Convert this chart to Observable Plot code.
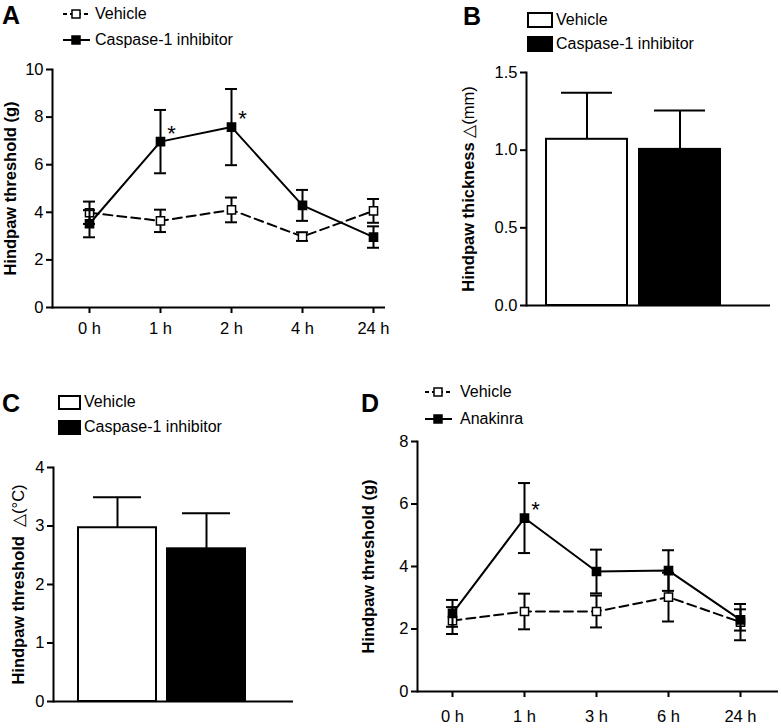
<!DOCTYPE html>
<html><head><meta charset="utf-8">
<script src="https://cdn.jsdelivr.net/npm/d3@7"></script>
<script src="https://cdn.jsdelivr.net/npm/@observablehq/plot@0.6"></script>
<style>
body{margin:0;background:#fff;}
#fig{position:relative;width:781px;height:728px;overflow:hidden;background:#fff;font-family:"Liberation Sans",Arial,sans-serif;color:#000;}
.panel{position:absolute;}
.letter{position:absolute;font-family:"Liberation Sans",Arial,sans-serif;font-weight:bold;font-size:25px;line-height:1;}
.leg{position:absolute;height:20px;display:flex;align-items:center;font-size:16px;white-space:nowrap;}
.leg svg{display:block;flex:none;}
#fig svg text{fill:#000;}
#fig svg g[aria-label$="tick label"] text{font-size:16.5px;}
#fig svg g[aria-label="y-axis label"] text{font-weight:bold;font-size:16.5px;}
#fig svg g[aria-label="y-axis label"] tspan.thin{font-weight:normal;}
#fig svg line, #fig svg g[aria-label*="axis tick"] path, #fig svg g[aria-label*="axis tick"] line{stroke-width:2px;}
</style>
</head><body><div id="fig"></div>
<script>
// ---------- data ----------
const timesA = ["0 h", "1 h", "2 h", "4 h", "24 h"];
const vehicleA_mean = [3.98, 3.64, 4.10, 2.98, 4.06];
const vehicleA_sem = [0.47, 0.47, 0.52, 0.18, 0.50];
const caspaseA_mean = [3.52, 6.97, 7.58, 4.29, 2.96];
const caspaseA_sem = [0.57, 1.33, 1.60, 0.65, 0.45];
const starsA = ["", "*", "*", "", ""];
const yTicksA = [0, 2, 4, 6, 8, 10];

const groupsBC = ["Vehicle", "Caspase-1 inhibitor"];
const thicknessB_mean = [1.07, 1.005];
const thicknessB_sem = [0.30, 0.25];
const yTicksB = [0, 0.5, 1.0, 1.5];

const heatC_mean = [2.97, 2.61];
const heatC_sem = [0.52, 0.61];
const yTicksC = [0, 1, 2, 3, 4];

const timesD = ["0 h", "1 h", "3 h", "6 h", "24 h"];
const vehicleD_mean = [2.27, 2.56, 2.56, 3.02, 2.22];
const vehicleD_sem = [0.43, 0.57, 0.51, 0.78, 0.58];
const anakinraD_mean = [2.50, 5.55, 3.84, 3.87, 2.29];
const anakinraD_sem = [0.43, 1.12, 0.70, 0.65, 0.34];
const starsD = ["", "*", "", "", ""];
const yTicksD = [0, 2, 4, 6, 8];

// ---------- helpers ----------
const fig = document.getElementById("fig");
const FONT = '"Liberation Sans",Arial,sans-serif';
const TRI = "\u25B3";

function place(el, left, top) {
  el.classList.add("panel");
  el.style.left = left + "px";
  el.style.top = top + "px";
  // label: bold text, thin delta unit part
  el.querySelectorAll('g[aria-label="y-axis label"] text').forEach(t => {
    const s = t.textContent, k = s.indexOf(TRI);
    if (k < 0) return;
    t.textContent = "";
    const a = document.createElementNS("http://www.w3.org/2000/svg", "tspan");
    a.textContent = s.slice(0, k);
    const b = document.createElementNS("http://www.w3.org/2000/svg", "tspan");
    b.setAttribute("class", "thin");
    b.textContent = s.slice(k);
    t.appendChild(a); t.appendChild(b);
  });
  fig.appendChild(el);
}

function lineChart(o) {
  const marks = [];
  o.series.forEach(s => {
    const d = o.times.map((t, i) => ({t, m: s.mean[i], e: s.sem[i]}));
    marks.push(
      Plot.ruleX(d, {x: "t", y1: r => r.m - r.e, y2: r => r.m + r.e, stroke: "#000", strokeWidth: 2}),
      Plot.ruleY(d, {x1: "t", x2: "t", y: r => r.m + r.e, insetLeft: -6, insetRight: -6, stroke: "#000", strokeWidth: 2}),
      Plot.ruleY(d, {x1: "t", x2: "t", y: r => r.m - r.e, insetLeft: -6, insetRight: -6, stroke: "#000", strokeWidth: 2}),
      Plot.line(d, {x: "t", y: "m", stroke: "#000", strokeWidth: 2, strokeDasharray: s.dash}),
      Plot.dot(d, {x: "t", y: "m", symbol: "square", r: 4.6, fill: s.fill, stroke: "#000", strokeWidth: 1.5})
    );
  });
  const sig = o.series[1];
  const starRows = o.times.map((t, i) => ({t, m: sig.mean[i], s: o.stars[i]})).filter(r => r.s);
  marks.push(Plot.text(starRows, {x: "t", y: "m", text: "s", dx: 11, dy: -8, fontSize: 22}));
  marks.push(Plot.ruleY([0], {stroke: "#000", strokeWidth: 2}));
  return Plot.plot({
    width: o.width, height: o.height,
    marginLeft: o.ml, marginRight: o.mr, marginTop: o.mt, marginBottom: o.mb,
    style: {fontFamily: FONT, fontSize: "16.5px", background: "transparent", color: "#000", overflow: "visible"},
    x: {type: "point", domain: o.times, padding: 0, insetLeft: o.il, insetRight: o.ir, label: null, tickSize: 6, tickPadding: o.xpad},
    y: {domain: o.yDomain, ticks: o.yTicks, tickFormat: o.fmt || (d => d), label: o.label, labelAnchor: "center", labelArrow: false, labelOffset: o.lo, line: true, tickSize: 6, tickPadding: 3},
    marks
  });
}

function barChart(o) {
  const d = o.groups.map((g, i) => ({g, m: o.mean[i], e: o.sem[i]}));
  return Plot.plot({
    width: o.width, height: o.height,
    marginLeft: o.ml, marginRight: o.mr, marginTop: o.mt, marginBottom: o.mb,
    style: {fontFamily: FONT, fontSize: "16.5px", background: "transparent", color: "#000", overflow: "visible"},
    x: {type: "band", domain: o.groups, paddingInner: o.pad, paddingOuter: 0, insetLeft: o.il, insetRight: o.ir, axis: null},
    y: {domain: o.yDomain, ticks: o.yTicks, tickFormat: o.fmt || (d => d), label: o.label, labelAnchor: "center", labelArrow: false, labelOffset: o.lo, line: true, tickSize: 6, tickPadding: 3},
    color: {domain: o.groups, range: ["#fff", "#000"]},
    marks: [
      Plot.ruleX(d, {x: "g", y1: "m", y2: r => r.m + r.e, stroke: "#000", strokeWidth: 2}),
      Plot.tickY(d, {x: "g", y: r => r.m + r.e, insetLeft: 15, insetRight: 15, stroke: "#000", strokeWidth: 2}),
      Plot.barY(d, {x: "g", y: "m", fill: "g", stroke: "#000", strokeWidth: 2}),
      Plot.ruleY([0], {stroke: "#000", strokeWidth: 2})
    ]
  });
}

function letter(t, left, top) {
  const el = document.createElement("div");
  el.className = "letter"; el.textContent = t;
  el.style.left = left + "px"; el.style.top = top + "px";
  fig.appendChild(el);
}

function lineLegend(items, left, tops, textLeft) {
  items.forEach((it, i) => {
    const row = document.createElement("div");
    row.className = "leg";
    row.style.left = left + "px"; row.style.top = (tops[i] - 10) + "px";
    const svg = d3.create("svg").attr("width", 27).attr("height", 12);
    svg.append("line").attr("x1", 0).attr("x2", 27).attr("y1", 6).attr("y2", 6)
      .attr("stroke", "#000").attr("stroke-width", 2).attr("stroke-dasharray", it.dash || null);
    svg.append("rect").attr("x", 9).attr("y", 2).attr("width", 8).attr("height", 8)
      .attr("fill", it.fill).attr("stroke", "#000").attr("stroke-width", 1.5);
    row.appendChild(svg.node());
    const sp = document.createElement("span");
    sp.textContent = it.name; sp.style.marginLeft = (textLeft - left - 27) + "px";
    row.appendChild(sp);
    fig.appendChild(row);
  });
}

function boxLegend(items, left, tops, w, h, gap) {
  items.forEach((it, i) => {
    const row = document.createElement("div");
    row.className = "leg";
    row.style.left = left + "px"; row.style.top = (tops[i] - 10) + "px";
    const svg = d3.create("svg").attr("width", w).attr("height", h);
    svg.append("rect").attr("x", 1).attr("y", 1).attr("width", w - 2).attr("height", h - 2)
      .attr("fill", it.fill).attr("stroke", "#000").attr("stroke-width", 2);
    row.appendChild(svg.node());
    const sp = document.createElement("span");
    sp.textContent = it.name; sp.style.marginLeft = gap + "px";
    row.appendChild(sp);
    fig.appendChild(row);
  });
}

// ---------- panel A ----------
place(lineChart({
  times: timesA,
  series: [
    {mean: vehicleA_mean, sem: vehicleA_sem, fill: "#fff", dash: "9,5"},
    {mean: caspaseA_mean, sem: caspaseA_sem, fill: "#000", dash: null}
  ],
  stars: starsA, yDomain: [0, 10], yTicks: yTicksA, label: "Hindpaw threshold (g)",
  width: 390, height: 285, ml: 52, mr: 5, mt: 9, mb: 38, il: 36, ir: 12, lo: 48, xpad: 9
}), 0, 60);
letter("A", 2, 3);
lineLegend([{name: "Vehicle", fill: "#fff", dash: "4,3"}, {name: "Caspase-1 inhibitor", fill: "#000"}], 63, [14, 40], 95);

// ---------- panel B ----------
place(barChart({
  groups: groupsBC, mean: thicknessB_mean, sem: thicknessB_sem,
  yDomain: [0, 1.5], yTicks: yTicksB, fmt: d3.format(".1f"), label: "Hindpaw thickness " + TRI + "(mm)",
  width: 391, height: 285, ml: 136, mr: 11, mt: 12, mb: 40, pad: 0.128, il: 20, ir: 49, lo: 64
}), 390, 60);
letter("B", 463, 4);
boxLegend([{name: "Vehicle", fill: "#fff"}, {name: "Caspase-1 inhibitor", fill: "#000"}], 527, [20, 44], 26, 16, 3);

// ---------- panel C ----------
place(barChart({
  groups: groupsBC, mean: heatC_mean, sem: heatC_sem,
  yDomain: [0, 4], yTicks: yTicksC, label: "Hindpaw threshold  " + TRI + "(\u00B0C)",
  width: 340, height: 280, ml: 53, mr: 47, mt: 27, mb: 19, pad: 0.123, il: 25, ir: 47, lo: 41
}), 0, 440);
letter("C", 2, 391);
boxLegend([{name: "Vehicle", fill: "#fff"}, {name: "Caspase-1 inhibitor", fill: "#000"}], 58, [402, 427], 23, 15, 3);

// ---------- panel D ----------
place(lineChart({
  times: timesD,
  series: [
    {mean: vehicleD_mean, sem: vehicleD_sem, fill: "#fff", dash: "9,5"},
    {mean: anakinraD_mean, sem: anakinraD_sem, fill: "#000", dash: null}
  ],
  stars: starsD, yDomain: [0, 8], yTicks: yTicksD, label: "Hindpaw threshold (g)",
  width: 441, height: 298, ml: 77, mr: 3, mt: 11, mb: 37, il: 35, ir: 38, lo: 55, xpad: 13
}), 340, 430);
letter("D", 361, 391);
lineLegend([{name: "Vehicle", fill: "#fff", dash: "4,3"}, {name: "Anakinra", fill: "#000"}], 425, [392, 419], 460);
</script>
</body></html>
